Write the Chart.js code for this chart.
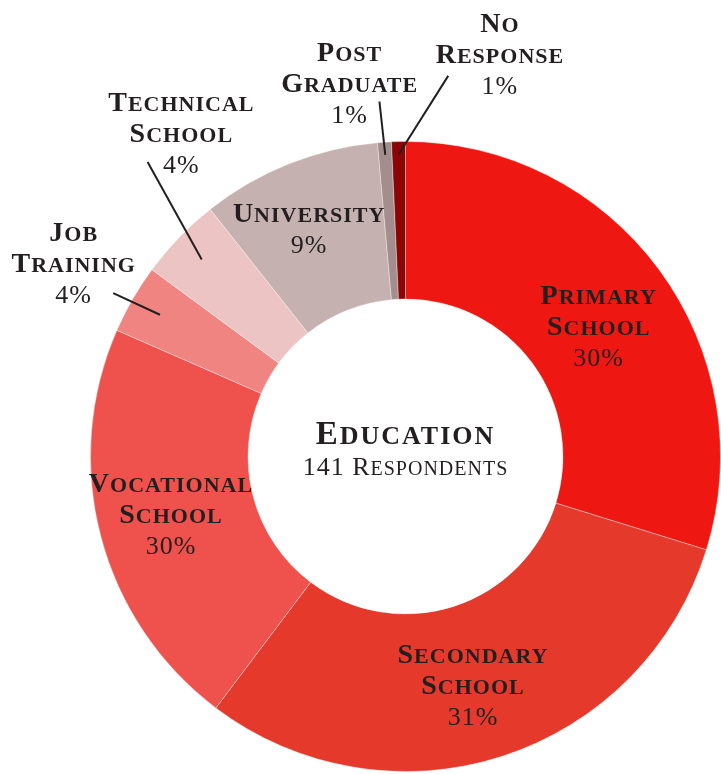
<!DOCTYPE html>
<html>
<head>
<meta charset="utf-8">
<script src="https://cdn.jsdelivr.net/npm/chart.js@4"></script>
<style>
  body { margin: 0; background: #fff; }
  #wrap { width: 721px; height: 774px; position: relative; }
</style>
</head>
<body>
<div id="wrap"><canvas id="eduChart"></canvas></div>
<script>
const categories = ['Primary School', 'Secondary School', 'Vocational School', 'Job Training',
                    'Technical School', 'University', 'Post Graduate', 'No Response'];
const respondents = [42, 43, 30, 5, 6, 13, 1, 1];
const percentLabels = ['30%', '31%', '30%', '4%', '4%', '9%', '1%', '1%'];
const chartTitle = 'Education';
const chartSubtitle = '141 Respondents';

const sliceColors = ['#ef1711', '#e5392b', '#ef514d', '#f08481', '#edc4c4', '#c5b1b0', '#a38e8d', '#8c0505'];

// small slices get their label outside the ring, with a leader line
// angles are clock degrees (0 = top, clockwise), distances are x outer radius
const outsideLabels = {
    3: { angle: 300.3, dist: 1.22, lineStart: 0.9, lineEndAngle: 299.2, lineEnd: 1.063 },
    4: { angle: 325.3, dist: 1.25, lineStart: 0.9, lineEndAngle: 318.8, lineEnd: 1.243 },
    6: { angle: 351.5, dist: 1.20, lineStart: 0.96, lineEndAngle: 355.8, lineEnd: 1.13 },
    7: { angle: 13.2, dist: 1.313, lineStart: 0.96, lineEndAngle: 6.4, lineEnd: 1.216 }
};
// small nudges (px) for labels sitting inside the ring
const insideNudge = { 0: [3, 10], 1: [-5, 4], 2: [-6, -2], 5: [-9, -8] };

const FONT = "'Liberation Serif', serif";
const INK = '#231f20';
const LINE_H = 31;

function clockToRad(deg) {
    return (deg - 90) * Math.PI / 180;
}

// fake small caps: lower case letters drawn as smaller capitals
function drawCaps(ctx, text, cx, baseline, size, weight) {
    const small = Math.round(size * 0.78);
    const runs = [];
    for (const ch of text) {
        const s = ch !== ch.toUpperCase() ? small : size;
        const last = runs[runs.length - 1];
        if (last && last.s === s) last.t += ch.toUpperCase();
        else runs.push({ t: ch.toUpperCase(), s: s });
    }
    let total = 0;
    runs.forEach(r => {
        ctx.font = `${weight} ${r.s}px ${FONT}`;
        r.w = ctx.measureText(r.t).width;
        total += r.w;
    });
    let x = cx - total / 2;
    runs.forEach(r => {
        ctx.font = `${weight} ${r.s}px ${FONT}`;
        ctx.fillText(r.t, x, baseline);
        x += r.w;
    });
}

function drawBlock(ctx, i, cx, cy) {
    const lines = categories[i].split(' ');
    const n = lines.length + 1;
    let y = cy - (n - 1) * LINE_H / 2 + 9;
    lines.forEach(word => {
        drawCaps(ctx, word, cx, y, 28, 'bold');
        y += LINE_H;
    });
    drawCaps(ctx, percentLabels[i], cx, y, 26, 'normal');
}

const labelPlugin = {
    id: 'sliceLabels',
    afterDraw(chart) {
        const ctx = chart.ctx;
        const meta = chart.getDatasetMeta(0);
        ctx.save();
        ctx.fillStyle = INK;
        ctx.strokeStyle = INK;
        ctx.textAlign = 'left';
        ctx.textBaseline = 'alphabetic';
        ctx.letterSpacing = '1px';

        meta.data.forEach((arc, i) => {
            const p = arc.getProps(['x', 'y', 'startAngle', 'endAngle', 'innerRadius', 'outerRadius'], true);
            const out = outsideLabels[i];
            if (!out) {
                const pos = arc.tooltipPosition(true);
                const nudge = insideNudge[i] || [0, 0];
                drawBlock(ctx, i, pos.x + nudge[0], pos.y + nudge[1]);
                return;
            }
            const mid = (p.startAngle + p.endAngle) / 2;
            const R = p.outerRadius;
            const endA = clockToRad(out.lineEndAngle);
            ctx.lineWidth = 2;
            ctx.beginPath();
            ctx.moveTo(p.x + Math.cos(mid) * R * out.lineStart, p.y + Math.sin(mid) * R * out.lineStart);
            ctx.lineTo(p.x + Math.cos(endA) * R * out.lineEnd, p.y + Math.sin(endA) * R * out.lineEnd);
            ctx.stroke();
            const a = clockToRad(out.angle);
            drawBlock(ctx, i, p.x + Math.cos(a) * R * out.dist, p.y + Math.sin(a) * R * out.dist);
        });

        // title in the hole
        const c = meta.data[0];
        ctx.letterSpacing = '2px';
        drawCaps(ctx, chartTitle, c.x, c.y - 13, 33, 'bold');
        ctx.letterSpacing = '1px';
        drawCaps(ctx, chartSubtitle, c.x, c.y + 18, 26, 'normal');
        ctx.restore();
    }
};

const ctx = document.getElementById('eduChart');
new Chart(ctx, {
    type: 'doughnut',
    data: {
        labels: categories,
        datasets: [{
            data: respondents,
            backgroundColor: sliceColors,
            borderColor: 'rgba(255,255,255,0.35)',
            borderWidth: 1,
            hoverOffset: 0
        }]
    },
    options: {
        responsive: true,
        maintainAspectRatio: false,
        animation: false,
        cutout: '50%',
        layout: { padding: { left: 90, top: 141, right: 0, bottom: 2 } },
        plugins: {
            legend: { display: false },
            tooltip: { enabled: false }
        }
    },
    plugins: [labelPlugin]
});
</script>
</body>
</html>
